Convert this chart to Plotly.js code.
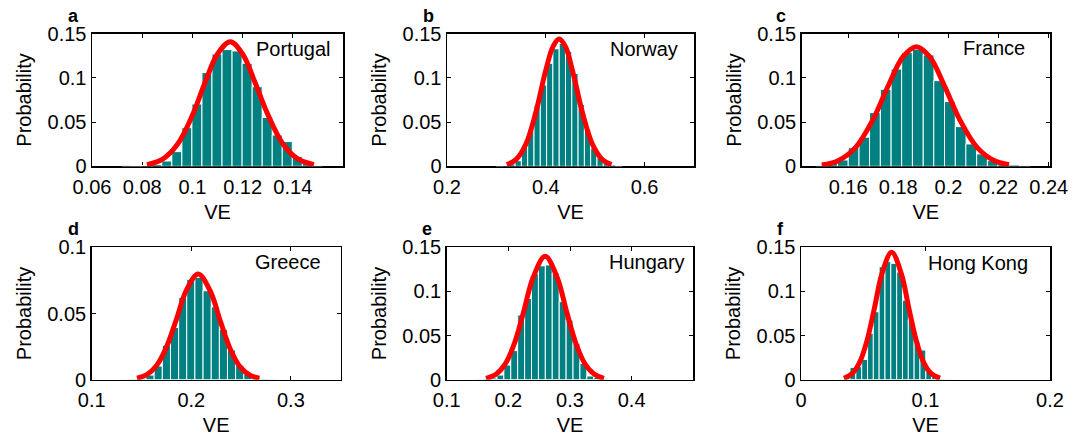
<!DOCTYPE html>
<html>
<head>
<meta charset="utf-8">
<script src="https://cdn.plot.ly/plotly-3.0.1.min.js"></script>
<style>html,body{margin:0;padding:0;background:#fff;}</style>
</head>
<body>
<div id="chart" style="width:1084px;height:439px;"></div>
<script>
// ---------------- data ----------------
const panelLetters = ['a', 'b', 'c', 'd', 'e', 'f'];
const countries = ['Portugal', 'Norway', 'France', 'Greece', 'Hungary', 'Hong Kong'];

const portugalBins = [0.0739,0.0779,0.0819,0.0858,0.0898,0.0938,0.0978,0.1018,0.1058,0.1098,0.1138,0.1178,0.1218,0.1258,0.1298,0.1338,0.1378,0.1418,0.1458,0.1498];
const portugalProb = [0.0005,0.0003,0.0008,0.002,0.006,0.0166,0.0437,0.0705,0.106,0.127,0.132,0.1305,0.1165,0.09,0.0554,0.0354,0.028,0.011,0.0034,0.001];
const portugalFitX = [0.0819,0.088,0.094,0.100,0.105,0.110,0.1151,0.120,0.125,0.130,0.136,0.142,0.1484];
const portugalFitY = [0.0019,0.0079,0.0247,0.0577,0.0945,0.127,0.141,0.127,0.0945,0.059,0.0255,0.0083,0.0019];

const norwayBins = [0.306,0.3187,0.3315,0.3442,0.357,0.3697,0.3825,0.3952,0.408,0.4207,0.4335,0.4462,0.459,0.4717,0.4845,0.4972,0.51,0.5227,0.5355,0.5482];
const norwayProb = [0.0003,0.001,0.0025,0.0063,0.0233,0.042,0.069,0.092,0.1165,0.133,0.139,0.13,0.105,0.07,0.041,0.0207,0.0098,0.0034,0.0015,0.0003];
const norwayFitX = [0.321,0.34,0.36,0.38,0.40,0.415,0.427,0.44,0.455,0.475,0.495,0.515,0.533];
const norwayFitY = [0.0019,0.0078,0.0255,0.0614,0.1087,0.136,0.144,0.135,0.106,0.059,0.0242,0.0073,0.0019];

const franceBins = [0.1494,0.1537,0.1579,0.1622,0.1665,0.1707,0.175,0.1793,0.1835,0.1878,0.1921,0.1963,0.2006,0.2049,0.2091,0.2134,0.2177,0.2219,0.2262,0.2305];
const franceProb = [0.001,0.0034,0.0072,0.021,0.033,0.0607,0.0871,0.110,0.1286,0.1324,0.126,0.0969,0.0732,0.0449,0.0253,0.014,0.0064,0.0034,0.0015,0.0008];
const franceFitX = [0.1495,0.156,0.163,0.170,0.176,0.182,0.1872,0.1925,0.1985,0.2045,0.2115,0.218,0.2242];
const franceFitY = [0.0015,0.0063,0.0214,0.0533,0.0911,0.1243,0.1353,0.124,0.0905,0.0528,0.0211,0.0068,0.0018];

const greeceBins = [0.1341,0.1423,0.1505,0.1586,0.1668,0.175,0.1832,0.1914,0.1995,0.2077,0.2159,0.2241,0.2323,0.2404,0.2486,0.2568,0.265,0.2732,0.2813,0.2895];
const greeceProb = [0.0003,0.0005,0.001,0.0035,0.0103,0.026,0.0395,0.062,0.0758,0.0773,0.0672,0.055,0.038,0.0224,0.011,0.0043,0.0018,0.0006,0.0003,0.0002];
const greeceFitX = [0.1454,0.155,0.165,0.175,0.185,0.195,0.2069,0.219,0.229,0.239,0.249,0.259,0.2684];
const greeceFitY = [0.0012,0.0036,0.0105,0.0245,0.0455,0.0675,0.0798,0.067,0.0446,0.0234,0.0097,0.0034,0.0012];

const hungaryBins = [0.1422,0.1534,0.1646,0.1759,0.1871,0.1983,0.2095,0.2207,0.232,0.2432,0.2544,0.2656,0.2768,0.2881,0.2993,0.3105,0.3217,0.3329,0.3442,0.3554];
const hungaryProb = [0.0003,0.0005,0.001,0.0019,0.0053,0.0166,0.033,0.0733,0.092,0.12,0.129,0.13,0.121,0.0884,0.0676,0.041,0.0185,0.0042,0.0026,0.001];
const hungaryFitX = [0.1637,0.18,0.195,0.21,0.225,0.24,0.2597,0.2795,0.2945,0.3095,0.3245,0.3395,0.3551];
const hungaryFitY = [0.0016,0.0062,0.0179,0.0415,0.0774,0.1155,0.1398,0.1153,0.077,0.0413,0.0178,0.0061,0.0016];

const hongKongBins = [0.0323,0.037,0.0417,0.0464,0.0511,0.0558,0.0604,0.0651,0.0698,0.0745,0.0792,0.0839,0.0885,0.0932,0.0979,0.1026,0.1073,0.112,0.1167,0.1213];
const hongKongProb = [0.0005,0.0026,0.014,0.0147,0.023,0.0525,0.077,0.128,0.1337,0.1318,0.122,0.09,0.0676,0.043,0.0336,0.009,0.0034,0.001,0.0005,0.0003];
const hongKongFitX = [0.0345,0.041,0.047,0.053,0.059,0.065,0.0728,0.0806,0.0866,0.0926,0.0986,0.1046,0.1117];
const hongKongFitY = [0.0017,0.0068,0.0193,0.0442,0.0812,0.120,0.1443,0.120,0.0812,0.0442,0.0193,0.0068,0.0017];

const portugalTicks = [0.06, 0.08, 0.1, 0.12, 0.14];
const norwayTicks = [0.2, 0.4, 0.6];
const franceTicks = [0.16, 0.18, 0.2, 0.22, 0.24];
const greeceTicks = [0.1, 0.2, 0.3];
const hungaryTicks = [0.1, 0.2, 0.3, 0.4];
const hongKongTicks = [0, 0.1, 0.2];
const probTicks = [0, 0.05, 0.1, 0.15];
const greeceProbTicks = [0, 0.05, 0.1];

// ---------------- layout / style ----------------
const FONT = 'Liberation Sans, Arial, Helvetica, sans-serif';
const TEAL = '#008080';
const RED = '#ff0000';

const panels = [
  {bins: portugalBins, prob: portugalProb, fx: portugalFitX, fy: portugalFitY, xt: portugalTicks, yt: probTicks, xr: [0.06, 0.16], yr: [0, 0.15]},
  {bins: norwayBins, prob: norwayProb, fx: norwayFitX, fy: norwayFitY, xt: norwayTicks, yt: probTicks, xr: [0.2, 0.7], yr: [0, 0.15]},
  {bins: franceBins, prob: franceProb, fx: franceFitX, fy: franceFitY, xt: franceTicks, yt: probTicks, xr: [0.1415, 0.2405], yr: [0, 0.15]},
  {bins: greeceBins, prob: greeceProb, fx: greeceFitX, fy: greeceFitY, xt: greeceTicks, yt: greeceProbTicks, xr: [0.1, 0.35], yr: [0, 0.1]},
  {bins: hungaryBins, prob: hungaryProb, fx: hungaryFitX, fy: hungaryFitY, xt: hungaryTicks, yt: probTicks, xr: [0.1, 0.5], yr: [0, 0.15]},
  {bins: hongKongBins, prob: hongKongProb, fx: hongKongFitX, fy: hongKongFitY, xt: hongKongTicks, yt: probTicks, xr: [0, 0.2], yr: [0, 0.15]}
];

const W = 1084, H = 439;
const xDom = [[92, 343], [447, 694], [801.7, 1050], [91.7, 340.7], [446.7, 693.3], [801, 1050]];
const yDom = [[33.7, 166.3], [33.7, 166.3], [33.7, 166.3], [247.3, 379.7], [247.3, 379.7], [247.3, 379.7]];
const letterPos = [[73.3, 15.5], [428.3, 15.5], [781, 15.5], [73.3, 228.5], [426.7, 228.5], [780, 228.5]];
const namePos = [[0.962, 0.885], [0.942, 0.885], [0.909, 0.89], [0.930, 0.887], [0.976, 0.887], [0.919, 0.882]];

function fmt(v) { return String(+v.toFixed(4)); }

const traces = [];
const layout = {
  width: W, height: H,
  margin: {l: 0, r: 0, t: 0, b: 0},
  paper_bgcolor: '#fff', plot_bgcolor: '#fff',
  showlegend: false,
  bargap: 0,
  font: {family: FONT, size: 20, color: '#000'},
  annotations: []
};

panels.forEach((p, i) => {
  const sfx = i === 0 ? '' : String(i + 1);
  const xa = 'x' + sfx, ya = 'y' + sfx;
  const binW = p.bins[1] - p.bins[0];
  traces.push({
    type: 'bar', x: p.bins, y: p.prob, width: binW,
    xaxis: xa, yaxis: ya,
    marker: {color: TEAL, line: {color: '#ffffff', width: 1}},
    hoverinfo: 'x+y'
  });
  traces.push({
    type: 'scatter', mode: 'lines', x: p.fx, y: p.fy,
    xaxis: xa, yaxis: ya,
    line: {color: RED, width: 5, shape: 'spline', smoothing: 1},
    cliponaxis: false, hoverinfo: 'skip'
  });
  const common = {
    showline: true, linecolor: '#000', linewidth: 1.5, mirror: 'ticks',
    ticks: 'inside', ticklen: 4, tickwidth: 1, tickcolor: '#000',
    showgrid: false, zeroline: false, fixedrange: true,
    tickfont: {family: FONT, size: 20, color: '#000'},
    layer: 'below traces'
  };
  layout['xaxis' + sfx] = Object.assign({}, common, {
    domain: [xDom[i][0] / W, xDom[i][1] / W],
    range: p.xr, anchor: ya,
    tickmode: 'array', tickvals: p.xt, ticktext: p.xt.map(fmt),
    ticklabelstandoff: 2,
    title: {text: 'VE', font: {family: FONT, size: 20, color: '#000'}, standoff: 8}
  });
  layout['yaxis' + sfx] = Object.assign({}, common, {
    domain: [1 - yDom[i][1] / H, 1 - yDom[i][0] / H],
    range: p.yr, anchor: xa,
    tickmode: 'array', tickvals: p.yt, ticktext: p.yt.map(fmt),
    title: {text: 'Probability', font: {family: FONT, size: 20, color: '#000'}, standoff: 10}
  });
  layout.annotations.push({
    xref: 'paper', yref: 'paper', x: letterPos[i][0] / W, y: 1 - letterPos[i][1] / H,
    xanchor: 'center', yanchor: 'middle', showarrow: false,
    text: '<b>' + panelLetters[i] + '</b>', font: {family: FONT, size: 18, color: '#000'}
  });
  layout.annotations.push({
    xref: xa + ' domain', yref: ya + ' domain', x: namePos[i][0], y: namePos[i][1],
    xanchor: 'right', yanchor: 'middle', showarrow: false,
    text: countries[i], font: {family: FONT, size: 20, color: '#000'}
  });
});

Plotly.newPlot('chart', traces, layout, {displayModeBar: false, staticPlot: true});
</script>
</body>
</html>
